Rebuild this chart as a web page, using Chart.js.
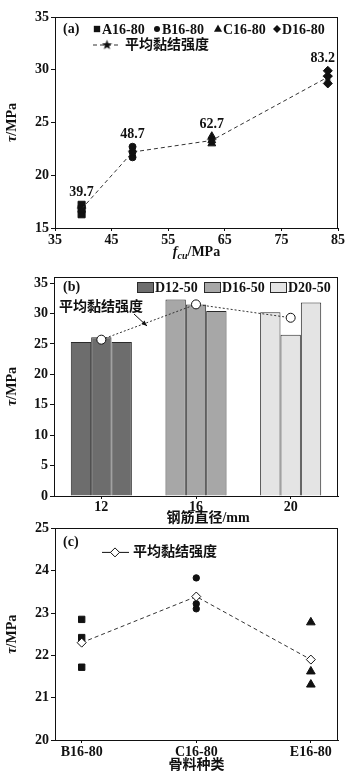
<!DOCTYPE html>
<html>
<head>
<meta charset="utf-8">
<script src="https://cdn.jsdelivr.net/npm/chart.js@4.4.0/dist/chart.umd.min.js"></script>
<style>
html, body { margin: 0; padding: 0; background: #fff; }
#wrap { position: relative; width: 354px; height: 777px; overflow: hidden; }
canvas { position: absolute; left: 0; }
</style>
</head>
<body>
<div id="wrap">
  <canvas id="chartA" width="354" height="262" style="top:0"></canvas>
  <canvas id="chartB" width="354" height="264" style="top:262px"></canvas>
  <canvas id="chartC" width="354" height="259" style="top:518px"></canvas>
</div>
<script>
// ---- data (a): bond strength vs concrete strength
const strengthX = [39.7, 48.7, 62.7, 83.2];
const strengthLabels = ["39.7", "48.7", "62.7", "83.2"];
const specA = [16.3, 16.8, 17.2];
const specB = [21.7, 22.2, 22.7];
const specC = [23.0, 23.3, 23.7];
const specD = [28.7, 29.4, 29.9];
const avgStrength = [16.8, 22.2, 23.3, 29.3];
const fcuTicks = [35, 45, 55, 65, 75, 85];
const tauTicksA = [15, 20, 25, 30, 35];

// ---- data (b): bar diameter
const diameters = ["12", "16", "20"];
const diaLegend = ["D12-50", "D16-50", "D20-50"];
const bar1 = [25.3, 32.3, 30.2];
const bar2 = [26.1, 31.5, 26.5];
const bar3 = [25.3, 30.4, 31.8];
const avgDia = [25.7, 31.5, 29.3];
const tauTicksB = [0, 5, 10, 15, 20, 25, 30, 35];

// ---- data (c): aggregate type
const aggregates = ["B16-80", "C16-80", "E16-80"];
const aggB = [22.85, 22.42, 21.72];
const aggC = [23.83, 23.22, 23.10];
const aggE = [22.78, 21.62, 21.31];
const avgAgg = [22.30, 23.39, 21.90];
const tauTicksC = [20, 21, 22, 23, 24, 25];

const INK = "#111";
const SERIF = '"Liberation Serif", "Times New Roman", "Noto Sans CJK SC", serif';
const CJK = '"Liberation Serif", "Noto Sans CJK SC", sans-serif';

Chart.defaults.font.family = SERIF;
Chart.defaults.font.size = 14;
Chart.defaults.font.weight = "bold";
Chart.defaults.color = INK;
Chart.defaults.animation = false;
Chart.defaults.plugins.legend.display = false;
Chart.defaults.plugins.tooltip.enabled = false;

// filled star used as point style
const starImg = document.createElement("canvas");
starImg.width = 11; starImg.height = 11;
(function () {
  const c = starImg.getContext("2d");
  c.fillStyle = INK;
  c.beginPath();
  for (let i = 0; i < 10; i++) {
    const r = i % 2 ? 2.2 : 5.3;
    const ang = -Math.PI / 2 + i * Math.PI / 5;
    c.lineTo(5.5 + r * Math.cos(ang), 5.8 + r * Math.sin(ang));
  }
  c.closePath();
  c.fill();
})();

function marker(ctx, style, x, y, r, fill) {
  ctx.save();
  ctx.fillStyle = fill || INK;
  ctx.strokeStyle = INK;
  ctx.lineWidth = 1;
  ctx.beginPath();
  if (style === "rect") {
    const s = r * Math.SQRT1_2;
    ctx.rect(x - s, y - s, 2 * s, 2 * s);
  } else if (style === "circle") {
    ctx.arc(x, y, r, 0, Math.PI * 2);
  } else if (style === "triangle") {
    ctx.moveTo(x, y - r);
    ctx.lineTo(x + r * 0.9, y + r * 0.6);
    ctx.lineTo(x - r * 0.9, y + r * 0.6);
    ctx.closePath();
  } else if (style === "rectRot") {
    ctx.moveTo(x, y - r); ctx.lineTo(x + r, y); ctx.lineTo(x, y + r); ctx.lineTo(x - r, y);
    ctx.closePath();
  }
  ctx.fill();
  if (fill) ctx.stroke();
  ctx.restore();
}

// draws text made of pieces (italic, subscript) centred on cx
function drawRich(ctx, segs, cx, cy) {
  const fontOf = s => (s.italic ? "italic " : "") + "bold " + (s.sub ? 10 : 14) + "px " + CJK;
  let total = 0;
  segs.forEach(s => { ctx.font = fontOf(s); total += ctx.measureText(s.t).width; });
  let x = cx - total / 2;
  ctx.textBaseline = "middle";
  ctx.textAlign = "left";
  segs.forEach(s => {
    ctx.font = fontOf(s);
    ctx.fillText(s.t, x, cy + (s.sub ? 4 : 0));
    x += ctx.measureText(s.t).width;
  });
}

const tauTitle = [{ t: "τ", italic: true }, { t: "/MPa" }];

function makeDecor(cfg) {
  return {
    id: "decor",
    afterDraw(chart) {
      const { ctx, chartArea: a } = chart;
      ctx.save();
      ctx.strokeStyle = INK;
      ctx.lineWidth = 1;
      ctx.strokeRect(Math.round(a.left) + 0.5, Math.round(a.top) + 0.5,
        Math.round(a.right - a.left) - 1, Math.round(a.bottom - a.top));
      ctx.fillStyle = INK;
      drawRich(ctx, cfg.xTitle, cfg.xTitleX || (a.left + a.right) / 2, cfg.xTitleY);
      ctx.save();
      ctx.translate(12, (a.top + a.bottom) / 2);
      ctx.rotate(-Math.PI / 2);
      drawRich(ctx, tauTitle, 0, 0);
      ctx.restore();
      if (cfg.extra) cfg.extra(chart, ctx, a);
      ctx.restore();
    }
  };
}

function yAxis(min, max, tickVals, width) {
  return {
    min: min, max: max,
    ticks: { padding: 2, autoSkip: false },
    grid: { drawOnChartArea: false, tickLength: 4, color: INK },
    border: { color: INK },
    afterBuildTicks: s => { s.ticks = tickVals.map(v => ({ value: v })); },
    afterFit: s => { s.width = width; }
  };
}

// ---------------- (a)
const pts = (i, vals) => vals.map(v => ({ x: strengthX[i], y: v }));
new Chart(document.getElementById("chartA"), {
  type: "scatter",
  data: {
    datasets: [
      { label: "平均黏结强度", type: "line", data: strengthX.map((x, i) => ({ x: x, y: avgStrength[i] })),
        borderColor: "#333", borderWidth: 1, borderDash: [4, 3], pointStyle: starImg, pointRadius: 5, fill: false, order: 0 },
      { label: "A16-80", data: pts(0, specA), pointStyle: "rect", pointRadius: 5, backgroundColor: INK, borderColor: INK },
      { label: "B16-80", data: pts(1, specB), pointStyle: "circle", pointRadius: 3.5, backgroundColor: INK, borderColor: INK },
      { label: "C16-80", data: pts(2, specC), pointStyle: "triangle", pointRadius: 4.5, backgroundColor: INK, borderColor: INK },
      { label: "D16-80", data: pts(3, specD), pointStyle: "rectRot", pointRadius: 4.5, backgroundColor: INK, borderColor: INK }
    ]
  },
  options: {
    responsive: false,
    layout: { padding: { left: 0, right: 16, top: 17, bottom: 0 } },
    scales: {
      x: {
        type: "linear", min: 35, max: 85,
        ticks: { padding: 1, autoSkip: false, maxRotation: 0 },
        afterBuildTicks: s => { s.ticks = fcuTicks.map(v => ({ value: v })); },
        grid: { drawOnChartArea: false, tickLength: 3, color: INK },
        border: { color: INK },
        afterFit: s => { s.height = 34; }
      },
      y: yAxis(15, 35, tauTicksA, 55)
    }
  },
  plugins: [makeDecor({
    xTitle: [{ t: "f", italic: true }, { t: "cu", sub: true, italic: true }, { t: "/MPa" }],
    xTitleY: 252,
    extra(chart, ctx, a) {
      const xs = chart.scales.x, ys = chart.scales.y;
      const specs = [specA, specB, specC, specD];
      ctx.font = "bold 14px " + SERIF;
      ctx.textBaseline = "bottom";
      ctx.textAlign = "center";
      strengthLabels.forEach((lab, i) => {
        let x = xs.getPixelForValue(strengthX[i]);
        const w = ctx.measureText(lab).width;
        x = Math.min(x, a.right - 3 - w / 2);
        ctx.fillText(lab, x, ys.getPixelForValue(Math.max(...specs[i])) - 5);
      });
      // legend
      const y1 = a.top + 12, y2 = a.top + 28;
      ctx.textBaseline = "middle";
      ctx.textAlign = "left";
      ctx.fillText("(a)", a.left + 8, y1);
      const styles = [["rect", 4.5, "A16-80"], ["circle", 3, "B16-80"], ["triangle", 4.5, "C16-80"], ["rectRot", 4, "D16-80"]];
      const xsLeg = [42, 102, 163, 222];
      styles.forEach((s, i) => {
        marker(ctx, s[0], a.left + xsLeg[i], y1, s[1]);
        ctx.fillStyle = INK;
        ctx.fillText(s[2], a.left + xsLeg[i] + 5, y1 + 1);
      });
      ctx.strokeStyle = "#333";
      ctx.setLineDash([4, 3]);
      ctx.beginPath(); ctx.moveTo(a.left + 38, y2); ctx.lineTo(a.left + 66, y2); ctx.stroke();
      ctx.setLineDash([]);
      ctx.drawImage(starImg, a.left + 52 - 5.5, y2 - 5.8);
      ctx.font = "bold 14px " + CJK;
      ctx.fillText("平均黏结强度", a.left + 70, y2);
    }
  })]
});

// ---------------- (b)
const diaColors = ["#6d6d6d", "#a7a7a7", "#e4e4e4"];
const barSet = (label, data) => ({
  label: label, data: data, backgroundColor: diaColors, borderColor: "#2a2a2a",
  borderWidth: 1, barPercentage: 1, categoryPercentage: 0.645, order: 1
});
new Chart(document.getElementById("chartB"), {
  type: "bar",
  data: {
    labels: diameters,
    datasets: [
      barSet("1", bar1), barSet("2", bar2), barSet("3", bar3),
      { label: "平均黏结强度", type: "line", data: avgDia, borderColor: "#333", borderWidth: 1,
        borderDash: [2, 2], pointStyle: "circle", pointRadius: 4.5, pointBackgroundColor: "#fff",
        pointBorderColor: INK, pointBorderWidth: 1, order: 0 }
    ]
  },
  options: {
    responsive: false,
    layout: { padding: { left: 0, right: 16, top: 15, bottom: 0 } },
    scales: {
      x: {
        ticks: { padding: 0, autoSkip: false, maxRotation: 0 },
        grid: { drawOnChartArea: false, tickLength: 3, color: INK, offset: false },
        border: { color: INK },
        afterFit: s => { s.height = 30; }
      },
      y: yAxis(0, 36, tauTicksB, 54)
    }
  },
  plugins: [makeDecor({
    xTitle: [{ t: "钢筋直径/mm" }],
    xTitleX: 208,
    xTitleY: 256,
    extra(chart, ctx, a) {
      const y1 = a.top + 10;
      ctx.font = "bold 14px " + SERIF;
      ctx.textBaseline = "middle";
      ctx.textAlign = "left";
      ctx.fillText("(b)", a.left + 9, y1);
      const bx = [83, 150, 216];
      diaLegend.forEach((lab, i) => {
        ctx.fillStyle = diaColors[i];
        ctx.fillRect(a.left + bx[i], y1 - 5, 16, 10);
        ctx.strokeStyle = "#2a2a2a";
        ctx.strokeRect(a.left + bx[i] + 0.5, y1 - 4.5, 16, 10);
        ctx.fillStyle = INK;
        ctx.fillText(lab, a.left + bx[i] + 18, y1 + 1);
      });
      ctx.font = "bold 14px " + CJK;
      ctx.fillText("平均黏结强度", a.left + 5, a.top + 30);
      // arrow
      const x0 = a.left + 80, yA = a.top + 37, x1 = a.left + 93, yB = a.top + 49;
      ctx.strokeStyle = INK;
      ctx.lineWidth = 1;
      ctx.beginPath(); ctx.moveTo(x0, yA); ctx.lineTo(x1, yB); ctx.stroke();
      const ang = Math.atan2(yB - yA, x1 - x0);
      ctx.beginPath();
      ctx.moveTo(x1, yB);
      ctx.lineTo(x1 - 6 * Math.cos(ang - 0.4), yB - 6 * Math.sin(ang - 0.4));
      ctx.lineTo(x1 - 6 * Math.cos(ang + 0.4), yB - 6 * Math.sin(ang + 0.4));
      ctx.closePath(); ctx.fill();
    }
  })]
});

// ---------------- (c)
const aggPts = (i, vals) => vals.map(v => ({ x: i, y: v }));
new Chart(document.getElementById("chartC"), {
  type: "scatter",
  data: {
    datasets: [
      { label: "平均黏结强度", type: "line", data: avgAgg.map((v, i) => ({ x: i, y: v })),
        borderColor: "#333", borderWidth: 1, borderDash: [4, 3], pointStyle: "rectRot", pointRadius: 4.5,
        pointBackgroundColor: "#fff", pointBorderColor: INK, pointBorderWidth: 1, fill: false, order: 0 },
      { label: "B16-80", data: aggPts(0, aggB), pointStyle: "rect", pointRadius: 4.5, backgroundColor: INK, borderColor: INK },
      { label: "C16-80", data: aggPts(1, aggC), pointStyle: "circle", pointRadius: 3.2, backgroundColor: INK, borderColor: INK },
      { label: "E16-80", data: aggPts(2, aggE), pointStyle: "triangle", pointRadius: 5, backgroundColor: INK, borderColor: INK }
    ]
  },
  options: {
    responsive: false,
    layout: { padding: { left: 0, right: 16, top: 10, bottom: 0 } },
    scales: {
      x: {
        type: "linear", min: -0.233, max: 2.237,
        ticks: { padding: 1, autoSkip: false, maxRotation: 0, callback: v => aggregates[v] },
        afterBuildTicks: s => { s.ticks = aggregates.map((_, i) => ({ value: i })); },
        grid: { drawOnChartArea: false, tickLength: 3, color: INK },
        border: { color: INK },
        afterFit: s => { s.height = 37; }
      },
      y: yAxis(20, 25, tauTicksC, 55)
    }
  },
  plugins: [makeDecor({
    xTitle: [{ t: "骨料种类" }],
    xTitleY: 247,
    extra(chart, ctx, a) {
      ctx.font = "bold 14px " + SERIF;
      ctx.textBaseline = "middle";
      ctx.textAlign = "left";
      ctx.fillText("(c)", a.left + 8, a.top + 14);
      const y2 = a.top + 24;
      ctx.strokeStyle = INK;
      ctx.lineWidth = 1;
      ctx.beginPath(); ctx.moveTo(a.left + 47, y2); ctx.lineTo(a.left + 74, y2); ctx.stroke();
      marker(ctx, "rectRot", a.left + 60, y2, 4.5, "#fff");
      ctx.fillStyle = INK;
      ctx.font = "bold 14px " + CJK;
      ctx.fillText("平均黏结强度", a.left + 78, y2);
    }
  })]
});
</script>
</body>
</html>
